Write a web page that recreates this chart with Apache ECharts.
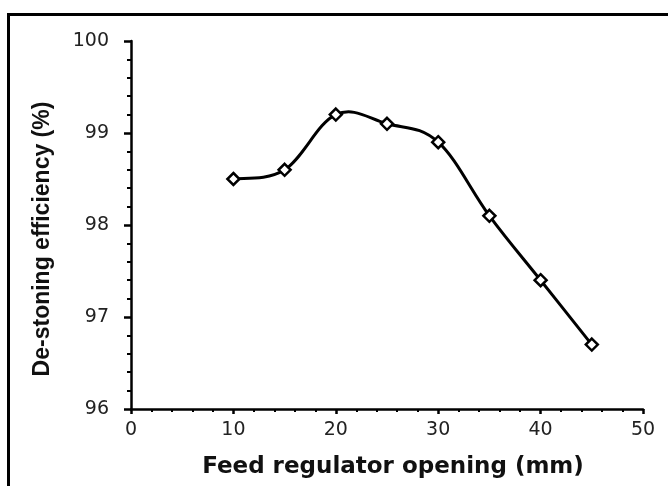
<!DOCTYPE html>
<html>
<head>
<meta charset="utf-8">
<script src="https://cdn.jsdelivr.net/npm/echarts@6/dist/echarts.min.js"></script>
<style>html,body{margin:0;padding:0;background:#fff;}#c{width:668px;height:486px;}</style>
</head>
<body>
<div id="c"></div>
<script>
var xValues = [10, 15, 20, 25, 30, 35, 40, 45];
var efficiency = [98.5, 98.6, 99.2, 99.1, 98.9, 98.1, 97.4, 96.7];
var xTitle = 'Feed regulator opening (mm)';
var yTitle = 'De-stoning efficiency (%)';

var chart = echarts.init(document.getElementById('c'), null, {renderer: 'canvas'});
var data = xValues.map(function (x, i) { return [x, efficiency[i]]; });

// Smooth curve (Catmull-Rom style, like spreadsheet smoothing) drawn from data via the axis scales
function renderCurve(params, api) {
  if (params.dataIndex !== 0) return null;
  var pts = data.map(function (d) { return api.coord(d); });
  var t = 0.18;
  var path = 'M' + pts[0][0] + ' ' + pts[0][1];
  for (var i = 0; i < pts.length - 1; i++) {
    var p0 = pts[Math.max(i - 1, 0)], p1 = pts[i], p2 = pts[i + 1], p3 = pts[Math.min(i + 2, pts.length - 1)];
    var c1x = p1[0] + (p2[0] - p0[0]) * t, c1y = p1[1] + (p2[1] - p0[1]) * t;
    var c2x = p2[0] - (p3[0] - p1[0]) * t, c2y = p2[1] - (p3[1] - p1[1]) * t;
    path += ' C' + c1x + ' ' + c1y + ' ' + c2x + ' ' + c2y + ' ' + p2[0] + ' ' + p2[1];
  }
  return {
    type: 'path',
    shape: {pathData: path},
    style: {fill: 'none', stroke: '#000', lineWidth: 3}
  };
}

chart.setOption({
  animation: false,
  backgroundColor: '#ffffff',
  graphic: [{
    type: 'rect',
    shape: {x: 8.5, y: 14.5, width: 800, height: 600},
    style: {fill: 'none', stroke: '#000', lineWidth: 3},
    silent: true
  }],
  grid: {left: 131, right: 25, top: 41, bottom: 77},
  xAxis: {
    type: 'value', min: 0, max: 50, interval: 10,
    name: xTitle, nameLocation: 'middle', nameGap: 47,
    nameTextStyle: {fontFamily: 'DejaVu Sans', fontWeight: 'bold', fontSize: 23, color: '#111', padding: [0, 0, 0, 12]},
    axisLine: {show: true, lineStyle: {color: '#000', width: 2.5}},
    axisTick: {show: true, inside: false, length: 5, lineStyle: {color: '#000', width: 2.5}},
    minorTick: {show: true, splitNumber: 5, length: 3, lineStyle: {color: '#000', width: 2}},
    splitLine: {show: false},
    axisLabel: {margin: 12, fontFamily: 'DejaVu Sans', fontSize: 19, color: '#222'}
  },
  yAxis: {
    type: 'value', min: 96, max: 100, interval: 1,
    name: yTitle, nameLocation: 'middle', nameGap: 77,
    nameTextStyle: {fontFamily: 'Liberation Sans', fontWeight: 'bold', fontSize: 23, color: '#111', padding: [0, 28, 0, 0]},
    axisLine: {show: true, lineStyle: {color: '#000', width: 2.5}},
    axisTick: {show: true, inside: false, length: 7, lineStyle: {color: '#000', width: 2.5}},
    minorTick: {show: true, splitNumber: 5, length: 4, lineStyle: {color: '#000', width: 2}},
    splitLine: {show: false},
    axisLabel: {margin: 22, fontFamily: 'DejaVu Sans', fontSize: 19, color: '#222'}
  },
  series: [{
    type: 'custom',
    data: data,
    renderItem: renderCurve,
    silent: true,
    z: 2
  }, {
    type: 'scatter',
    data: data,
    symbol: 'diamond',
    symbolSize: 12,
    itemStyle: {color: '#fff', borderColor: '#000', borderWidth: 2.5, opacity: 1},
    z: 3
  }]
});
</script>
</body>
</html>
